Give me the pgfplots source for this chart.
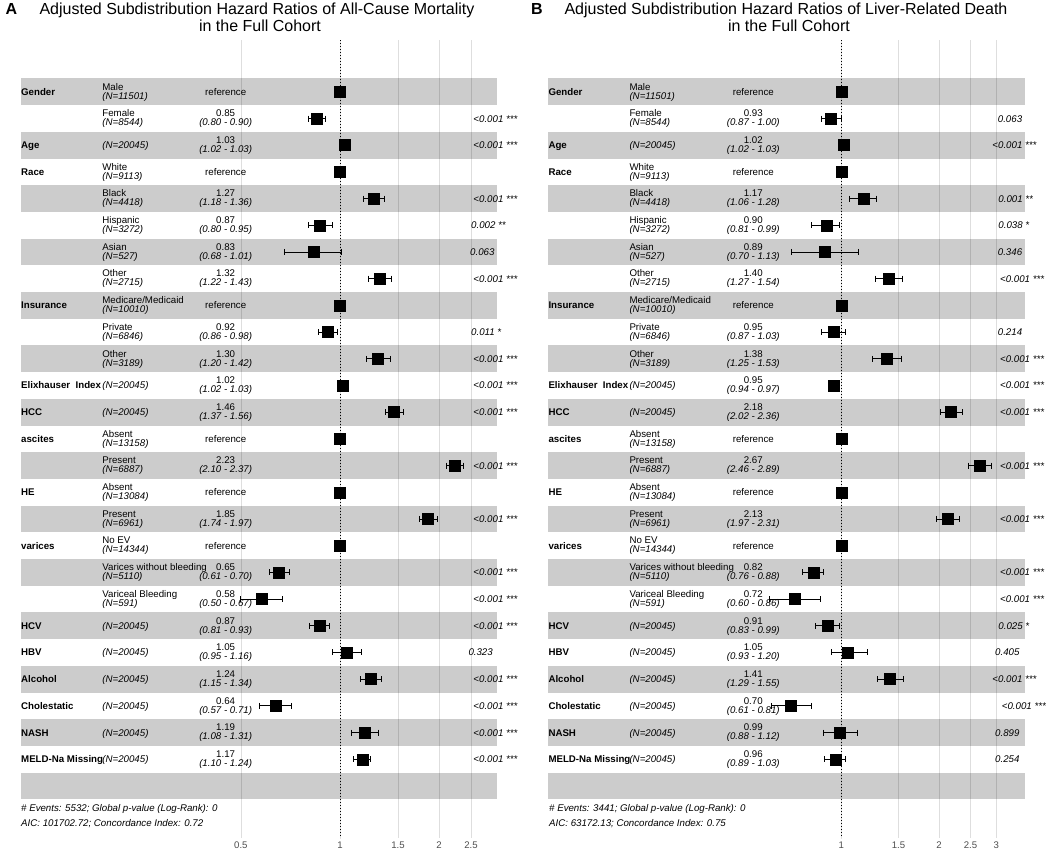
\documentclass[border=0pt]{standalone}
\usepackage{pgfplots}
\pgfplotsset{compat=1.18}
\usepackage{pgfplotstable}
\usepackage{fontspec}
\setmainfont{Liberation Sans}
\definecolor{gridc}{RGB}{222,222,222}
\definecolor{tickc}{RGB}{77,77,77}
\newcommand\rf{\fontsize{9.7}{10}\selectfont}
\newcommand\tf{\fontsize{16}{17}\selectfont}
\tikzset{txt/.style={inner sep=0pt,font=\rf}, itx/.style={inner sep=0pt,font=\rf\itshape}}
% variable name
\newcommand\VN[2]{\node[txt,font=\rf\bfseries,anchor=base west,yshift=-3.5pt] at (axis cs:\xN,#1) {#2};}
% level + N
\newcommand\LV[3]{\node[txt,anchor=base west,yshift=1.7pt] at (axis cs:\xL,#1) {#2};
  \node[itx,anchor=base west,yshift=-7.3pt] at (axis cs:\xL,#1) {(N=#3)};}
\newcommand\LN[2]{\node[itx,anchor=base west,yshift=-3.5pt] at (axis cs:\xL,#1) {(N=#2)};}
% estimate
\newcommand\ES[4]{\node[txt,anchor=base,yshift=1.7pt] at (axis cs:\xE,#1) {#2};
  \node[itx,anchor=base,yshift=-7.3pt] at (axis cs:\xE,#1) {(#3 - #4)};}
\newcommand\RF[1]{\node[txt,anchor=base,yshift=-3.5pt] at (axis cs:\xE,#1) {reference};}
% p-value
\newcommand\PV[3]{\node[itx,anchor=base west,yshift=-3.5pt] at (axis cs:#2,#1) {#3};}

\pgfplotstableread{
row hr lo hi
1 1 1 1
2 0.85 0.80 0.90
3 1.03 1.02 1.03
4 1 1 1
5 1.27 1.18 1.36
6 0.87 0.80 0.95
7 0.83 0.68 1.01
8 1.32 1.22 1.43
9 1 1 1
10 0.92 0.86 0.98
11 1.30 1.20 1.42
12 1.02 1.02 1.03
13 1.46 1.37 1.56
14 1 1 1
15 2.23 2.10 2.37
16 1 1 1
17 1.85 1.74 1.97
18 1 1 1
19 0.65 0.61 0.70
20 0.58 0.50 0.67
21 0.87 0.81 0.93
22 1.05 0.95 1.16
23 1.24 1.15 1.34
24 0.64 0.57 0.71
25 1.19 1.08 1.31
26 1.17 1.10 1.24
}\dataA

\pgfplotstableread{
row hr lo hi
1 1 1 1
2 0.93 0.87 1.00
3 1.02 1.02 1.03
4 1 1 1
5 1.17 1.06 1.28
6 0.90 0.81 0.99
7 0.89 0.70 1.13
8 1.40 1.27 1.54
9 1 1 1
10 0.95 0.87 1.03
11 1.38 1.25 1.53
12 0.95 0.94 0.97
13 2.18 2.02 2.36
14 1 1 1
15 2.67 2.46 2.89
16 1 1 1
17 2.13 1.97 2.31
18 1 1 1
19 0.82 0.76 0.88
20 0.72 0.60 0.86
21 0.91 0.83 0.99
22 1.05 0.93 1.20
23 1.41 1.29 1.55
24 0.70 0.61 0.81
25 0.99 0.88 1.12
26 0.96 0.89 1.03
}\dataB

\newcommand\bands[2]{%
  \pgfplotsinvokeforeach{1,3,5,7,9,11,13,15,17,19,21,23,25,27}{
    \fill[black,fill opacity=0.2] (axis cs:#1,##1-0.5) rectangle (axis cs:#2,##1+0.5);}}

% CI caps, CI lines and squares from a table
\newcommand\forestplot[1]{%
\addplot[only marks, mark=|, mark size=3pt, black, mark options={line width=0.8pt}] table[x=lo, y=row] {#1};
\addplot[only marks, mark=|, mark size=3pt, black, mark options={line width=0.8pt}] table[x=hi, y=row] {#1};
\addplot[only marks, mark=square*, mark size=5.5pt, black,
  error bars/.cd, x dir=both, x explicit, error mark=none,
  error bar style={line width=0.8pt,black}]
  table[x=hr, y=row, x error plus expr=\thisrow{hi}-\thisrow{hr}, x error minus expr=\thisrow{hr}-\thisrow{lo}] {#1};}

\begin{document}
\begin{tikzpicture}
\useasboundingbox (0pt,0pt) rectangle (1050pt,-853pt);
% ---------------- Panel A ----------------
\node[anchor=base west,inner sep=0pt,font=\tf\bfseries] at (5.5pt,-15pt) {A};
\node[anchor=base,inner sep=0pt,font=\tf] at (257pt,-15pt) {Adjusted Subdistribution Hazard Ratios of All-Cause Mortality};
\node[anchor=base,inner sep=0pt,font=\tf] at (260pt,-31.7pt) {in the Full Cohort};
\def\xN{0.1075}\def\xL{0.1897}\def\xE{0.4497}
\begin{axis}[at={(21pt,-40pt)}, anchor=north west, width=476pt,
  scale only axis, height=798pt,
  xmode=log, ymin=-0.94, ymax=28.95, y dir=reverse,
  axis line style={draw=none}, tick style={draw=none},
  ytick=\empty, major tick length=0pt,
  xticklabel style={font=\fontsize{9.6}{10}\selectfont, text=tickc},
  clip=false,
  xmin=0.1075, xmax=2.998,
  xtick={0.5,1,1.5,2,2.5}, xticklabels={0.5,1,1.5,2,2.5}]
\pgfplotsinvokeforeach{0.5,1,1.5,2,2.5}{\draw[gridc,line width=0.6pt] (axis cs:#1,-0.94) -- (axis cs:#1,28.95);}
\bands{0.1075}{2.998}
\draw[black,line width=0.9pt,dash pattern=on 0.9pt off 2.1pt] (axis cs:1,-0.94) -- (axis cs:1,28.95);
\forestplot{\dataA}
\VN{1}{Gender}\LV{1}{Male}{11501}\RF{1}
\LV{2}{Female}{8544}\ES{2}{0.85}{0.80}{0.90}\PV{2}{2.540}{<0.001 ***}
\VN{3}{Age}\LN{3}{20045}\ES{3}{1.03}{1.02}{1.03}\PV{3}{2.540}{<0.001 ***}
\VN{4}{Race}\LV{4}{White}{9113}\RF{4}
\LV{5}{Black}{4418}\ES{5}{1.27}{1.18}{1.36}\PV{5}{2.540}{<0.001 ***}
\LV{6}{Hispanic}{3272}\ES{6}{0.87}{0.80}{0.95}\PV{6}{2.500}{0.002 **}
\LV{7}{Asian}{527}\ES{7}{0.83}{0.68}{1.01}\PV{7}{2.482}{0.063}
\LV{8}{Other}{2715}\ES{8}{1.32}{1.22}{1.43}\PV{8}{2.540}{<0.001 ***}
\VN{9}{Insurance}\LV{9}{Medicare/Medicaid}{10010}\RF{9}
\LV{10}{Private}{6846}\ES{10}{0.92}{0.86}{0.98}\PV{10}{2.500}{0.011 *}
\LV{11}{Other}{3189}\ES{11}{1.30}{1.20}{1.42}\PV{11}{2.540}{<0.001 ***}
\VN{12}{Elixhauser\ \ Index}\LN{12}{20045}\ES{12}{1.02}{1.02}{1.03}\PV{12}{2.540}{<0.001 ***}
\VN{13}{HCC}\LN{13}{20045}\ES{13}{1.46}{1.37}{1.56}\PV{13}{2.540}{<0.001 ***}
\VN{14}{ascites}\LV{14}{Absent}{13158}\RF{14}
\LV{15}{Present}{6887}\ES{15}{2.23}{2.10}{2.37}\PV{15}{2.540}{<0.001 ***}
\VN{16}{HE}\LV{16}{Absent}{13084}\RF{16}
\LV{17}{Present}{6961}\ES{17}{1.85}{1.74}{1.97}\PV{17}{2.540}{<0.001 ***}
\VN{18}{varices}\LV{18}{No EV}{14344}\RF{18}
\LV{19}{Varices without bleeding}{5110}\ES{19}{0.65}{0.61}{0.70}\PV{19}{2.540}{<0.001 ***}
\LV{20}{Variceal Bleeding}{591}\ES{20}{0.58}{0.50}{0.67}\PV{20}{2.540}{<0.001 ***}
\VN{21}{HCV}\LN{21}{20045}\ES{21}{0.87}{0.81}{0.93}\PV{21}{2.540}{<0.001 ***}
\VN{22}{HBV}\LN{22}{20045}\ES{22}{1.05}{0.95}{1.16}\PV{22}{2.453}{0.323}
\VN{23}{Alcohol}\LN{23}{20045}\ES{23}{1.24}{1.15}{1.34}\PV{23}{2.540}{<0.001 ***}
\VN{24}{Cholestatic}\LN{24}{20045}\ES{24}{0.64}{0.57}{0.71}\PV{24}{2.540}{<0.001 ***}
\VN{25}{NASH}\LN{25}{20045}\ES{25}{1.19}{1.08}{1.31}\PV{25}{2.540}{<0.001 ***}
\VN{26}{MELD-Na Missing}\LN{26}{20045}\ES{26}{1.17}{1.10}{1.24}\PV{26}{2.540}{<0.001 ***}
\end{axis}
\node[anchor=base west,inner sep=0pt,font=\rf\itshape] at (21pt,-811pt) {\# Events: 5532; Global p-value (Log-Rank): 0};
\node[anchor=base west,inner sep=0pt,font=\rf\itshape] at (21pt,-826pt) {AIC: 101702.72; Concordance Index: 0.72};
% ---------------- Panel B ----------------
\node[anchor=base west,inner sep=0pt,font=\tf\bfseries] at (531pt,-15pt) {B};
\node[anchor=base,inner sep=0pt,font=\tf] at (786pt,-15pt) {Adjusted Subdistribution Hazard Ratios of Liver-Related Death};
\node[anchor=base,inner sep=0pt,font=\tf] at (789pt,-31.7pt) {in the Full Cohort};
\def\xN{0.1252}\def\xL{0.2224}\def\xE{0.5357}
\begin{axis}[at={(548.3pt,-40pt)}, anchor=north west, width=476.7pt,
  scale only axis, height=798pt,
  xmode=log, ymin=-0.94, ymax=28.95, y dir=reverse,
  axis line style={draw=none}, tick style={draw=none},
  ytick=\empty, major tick length=0pt,
  xticklabel style={font=\fontsize{9.6}{10}\selectfont, text=tickc},
  clip=false,
  xmin=0.1252, xmax=3.680,
  xtick={1,1.5,2,2.5,3}, xticklabels={1,1.5,2,2.5,3}]
\pgfplotsinvokeforeach{1,1.5,2,2.5,3}{\draw[gridc,line width=0.6pt] (axis cs:#1,-0.94) -- (axis cs:#1,28.95);}
\bands{0.1252}{3.680}
\draw[black,line width=0.9pt,dash pattern=on 0.9pt off 2.1pt] (axis cs:1,-0.94) -- (axis cs:1,28.95);
\forestplot{\dataB}
\VN{1}{Gender}\LV{1}{Male}{11501}\RF{1}
\LV{2}{Female}{8544}\ES{2}{0.93}{0.87}{1.00}\PV{2}{3.032}{0.063}
\VN{3}{Age}\LN{3}{20045}\ES{3}{1.02}{1.02}{1.03}\PV{3}{2.918}{<0.001 ***}
\VN{4}{Race}\LV{4}{White}{9113}\RF{4}
\LV{5}{Black}{4418}\ES{5}{1.17}{1.06}{1.28}\PV{5}{3.045}{0.001 **}
\LV{6}{Hispanic}{3272}\ES{6}{0.90}{0.81}{0.99}\PV{6}{3.045}{0.038 *}
\LV{7}{Asian}{527}\ES{7}{0.89}{0.70}{1.13}\PV{7}{3.032}{0.346}
\LV{8}{Other}{2715}\ES{8}{1.40}{1.27}{1.54}\PV{8}{3.082}{<0.001 ***}
\VN{9}{Insurance}\LV{9}{Medicare/Medicaid}{10010}\RF{9}
\LV{10}{Private}{6846}\ES{10}{0.95}{0.87}{1.03}\PV{10}{3.032}{0.214}
\LV{11}{Other}{3189}\ES{11}{1.38}{1.25}{1.53}\PV{11}{3.082}{<0.001 ***}
\VN{12}{Elixhauser\ \ Index}\LN{12}{20045}\ES{12}{0.95}{0.94}{0.97}\PV{12}{3.082}{<0.001 ***}
\VN{13}{HCC}\LN{13}{20045}\ES{13}{2.18}{2.02}{2.36}\PV{13}{3.082}{<0.001 ***}
\VN{14}{ascites}\LV{14}{Absent}{13158}\RF{14}
\LV{15}{Present}{6887}\ES{15}{2.67}{2.46}{2.89}\PV{15}{3.082}{<0.001 ***}
\VN{16}{HE}\LV{16}{Absent}{13084}\RF{16}
\LV{17}{Present}{6961}\ES{17}{2.13}{1.97}{2.31}\PV{17}{3.082}{<0.001 ***}
\VN{18}{varices}\LV{18}{No EV}{14344}\RF{18}
\LV{19}{Varices without bleeding}{5110}\ES{19}{0.82}{0.76}{0.88}\PV{19}{3.082}{<0.001 ***}
\LV{20}{Variceal Bleeding}{591}\ES{20}{0.72}{0.60}{0.86}\PV{20}{3.082}{<0.001 ***}
\VN{21}{HCV}\LN{21}{20045}\ES{21}{0.91}{0.83}{0.99}\PV{21}{3.045}{0.025 *}
\VN{22}{HBV}\LN{22}{20045}\ES{22}{1.05}{0.93}{1.20}\PV{22}{2.975}{0.405}
\VN{23}{Alcohol}\LN{23}{20045}\ES{23}{1.41}{1.29}{1.55}\PV{23}{2.918}{<0.001 ***}
\VN{24}{Cholestatic}\LN{24}{20045}\ES{24}{0.70}{0.61}{0.81}\PV{24}{3.119}{<0.001 ***}
\VN{25}{NASH}\LN{25}{20045}\ES{25}{0.99}{0.88}{1.12}\PV{25}{2.975}{0.899}
\VN{26}{MELD-Na Missing}\LN{26}{20045}\ES{26}{0.96}{0.89}{1.03}\PV{26}{2.975}{0.254}
\end{axis}
\node[anchor=base west,inner sep=0pt,font=\rf\itshape] at (549pt,-811pt) {\# Events: 3441; Global p-value (Log-Rank): 0};
\node[anchor=base west,inner sep=0pt,font=\rf\itshape] at (549pt,-826pt) {AIC: 63172.13; Concordance Index: 0.75};
\end{tikzpicture}
\end{document}
